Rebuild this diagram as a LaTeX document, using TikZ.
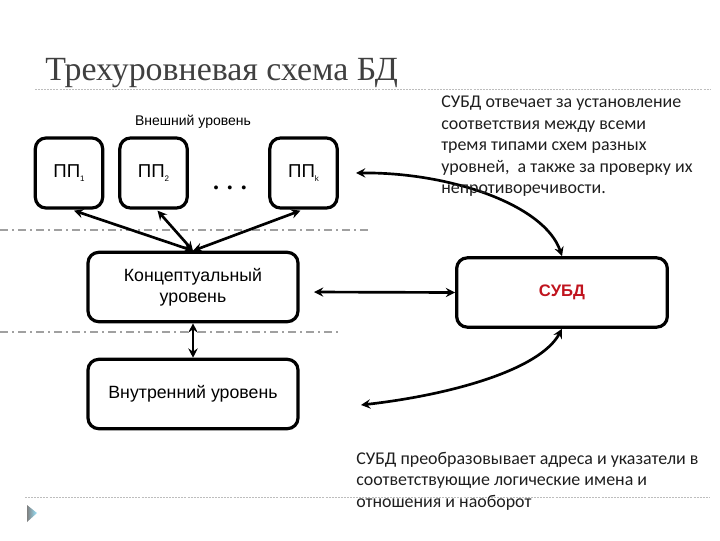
\documentclass[tikz,border=0pt]{standalone}
\usepackage{fontspec}
\setmainfont{Liberation Serif}
\setsansfont{Liberation Sans}
\newfontfamily\calfont{Carlito}
\usetikzlibrary{arrows.meta,calc}
\definecolor{titlegray}{HTML}{404040}
\definecolor{linegray}{HTML}{A0A0A0}
\definecolor{subdred}{HTML}{C0141E}
\definecolor{notetext}{HTML}{1E1E1E}
\newcommand{\lowsub}[1]{\raisebox{-0.35ex}{\fontsize{6}{7}\selectfont #1}}
\begin{document}
\begin{tikzpicture}[x=0.75pt,y=-0.75pt,
  box/.style={draw=black,line width=2.4pt,rounded corners=8pt,align=center,inner sep=0pt,font=\sffamily},
  ppbox/.style={box,minimum width=50.5pt,minimum height=52.5pt,font=\sffamily\fontsize{14}{16}\selectfont},
  bigbox/.style={box,minimum width=157.5pt,minimum height=52pt,font=\sffamily\fontsize{13.3}{15.5}\selectfont},
  arr/.style={line width=2pt,{Stealth[length=7pt,width=7pt,inset=2.5pt]}-{Stealth[length=7pt,width=7pt,inset=2.5pt]}},
  levelsep/.style={draw=linegray,line width=1.3pt,dash pattern=on 6pt off 3pt on 1.5pt off 3pt},
  rule/.style={draw=linegray!70,line width=0.6pt,dash pattern=on 1.5pt off 0.8pt},
  note/.style={anchor=north west,align=left,inner sep=0pt,text=notetext,font=\calfont\fontsize{13.45}{16.1}\selectfont}
]
\useasboundingbox (0,0) rectangle (720,540);
% title
\node[anchor=base west,inner sep=0pt,text=titlegray,font=\fontsize{25.4}{28}\selectfont] (title) at (45,80) {Трехуровневая схема БД};
\draw[rule] (35,89) -- (710,89);
\draw[rule] (25,497) -- (710,497);
\shade[left color=black!50,right color=blue!25!cyan!40] (27,505) -- (37,513) -- (27,522) -- cycle;
% external level
\node[font=\sffamily\fontsize{10.5}{12}\selectfont] (ext) at (193,122) {Внешний уровень};
\node[ppbox] (p1) at (69,173) {ПП\lowsub{1}};
\node[ppbox] (p2) at (153.5,173) {ПП\lowsub{2}};
\node[ppbox] (pk) at (303.5,173) {ПП\lowsub{k}};
\node[anchor=base,inner sep=0pt,font=\bfseries\fontsize{18}{18}\selectfont] (dots) at (230,189) {.\hspace{6pt}.\hspace{6pt}.};
% separators
\draw[levelsep] (0,230) -- (370,230);
\draw[levelsep] (0,332) -- (340,332);
% concept and internal
\node[bigbox] (conc) at (193,287) {Концептуальный\\уровень};
\node[bigbox] (intl) at (193,394) {Внутренний уровень};
\node[box,minimum width=158pt,minimum height=52pt,text=subdred,font=\sffamily\bfseries\fontsize{12.5}{15}\selectfont] (subd) at (562,292.5) {СУБД};
% arrows
\draw[arr] (conc.north) -- ($(p1.south)+(5,1)$);
\draw[arr] (conc.north) -- ($(p2.south)+(4,1)$);
\draw[arr] (conc.north) -- ($(pk.south)+(-3,1)$);
\draw[arr] (conc.south) -- (intl.north);
\coordinate (cr) at (314,292);
\draw[arr] (cr) -- (subd.west);
\coordinate (ktop) at (356,173);
\draw[arr] (ktop) .. controls (450,172) and (545,205) .. (subd.north);
\coordinate (ibot) at (361,405);
\draw[arr] (subd.south) .. controls (540,370) and (450,395) .. (ibot);
% notes
\node[note] (n1) at (441,96) {СУБД отвечает за установление\\соответствия между всеми\\тремя типами схем разных\\уровней,\ \ а также за проверку их\\непротиворечивости.};
\node[note] (n2) at (356,452) {СУБД преобразовывает адреса и указатели в\\соответствующие логические имена и\\отношения и наоборот};
\end{tikzpicture}
\end{document}
